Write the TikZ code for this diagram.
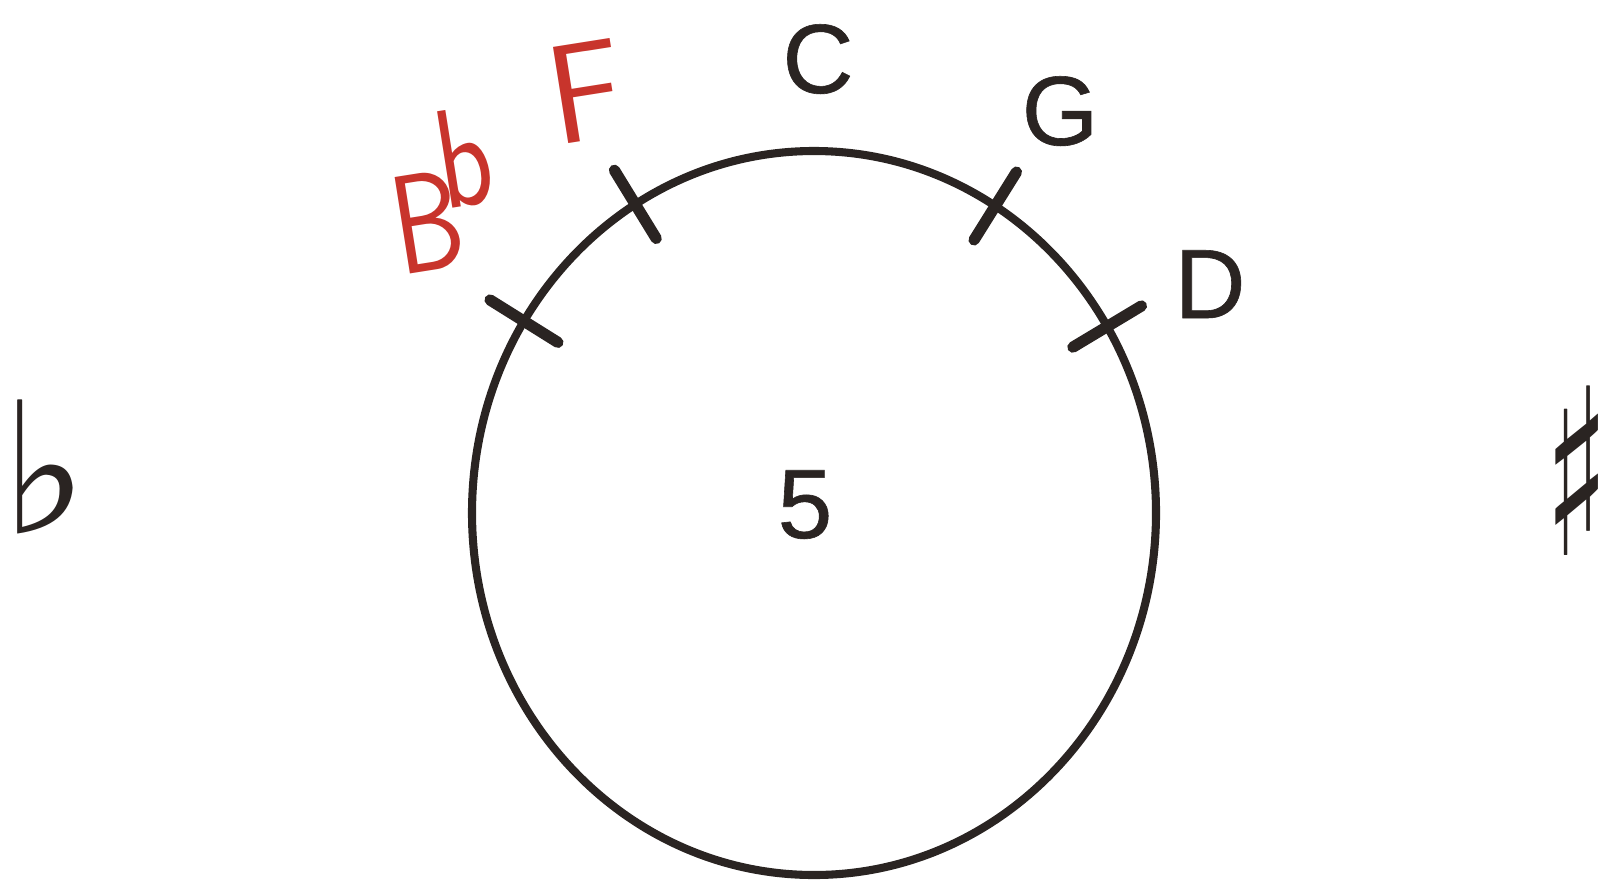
\documentclass[tikz,border=0pt]{standalone}
\usepackage{fontspec}
\setmainfont{Liberation Sans}
\newfontfamily\labelfont[FakeBold=0.6]{Liberation Sans}
\newfontfamily\symfont{DejaVu Sans}
\usepackage{tikz}
\usetikzlibrary{calc}
\definecolor{inkblack}{HTML}{2A2422}
\definecolor{penred}{HTML}{C8342C}
\tikzstyle{notelabel} = [
  inkblack, font=\labelfont\fontsize{28}{30}\selectfont, anchor=base, inner sep=0pt
]
\tikzstyle{redlabel} = [
  penred, font=\sffamily\fontsize{40}{42}\selectfont, inner sep=0pt
]
\tikzstyle{accidental} = [
  inkblack, font=\symfont\fontsize{52}{54}\selectfont, inner sep=0pt
]
\tikzstyle{tickmark} = [inkblack, line width=3.2pt, line cap=round]

\begin{document}
\begin{tikzpicture}[x=0.01cm, y=0.01cm]
\useasboundingbox (0,0) rectangle (1598,881);

% --- Circle of fifths ---
\coordinate (center) at (814,368);
\draw[inkblack, line width=2.3pt] (center) ellipse [x radius=342, y radius=362];
\foreach \a in {31,58,121.5,148}
  \draw[tickmark] ($(center)+(\a:302 and 322)$) -- ($(center)+(\a:382 and 402)$);

% --- Key names ---
\node[notelabel] (cnode) at (818,788) {C};
\node[notelabel] (gnode) at (1060,736) {G};
\node[notelabel] (dnode) at (1210,563) {D};
\node[notelabel] (count) at (805,343) {5};

% --- Handwritten keys ---
\node[redlabel, rotate=9] (fnode) at (586,789) {F};
\node[redlabel, rotate=9, xscale=0.8, anchor=base west] (bbnode) at (400,605)
  {B\kern-0.15em\raisebox{0.42em}{b}};

% --- Flat and sharp sides ---
\node[accidental] (flat) at (45,414) {♭};
\node[accidental, xscale=0.58, font=\symfont\fontsize{66}{68}\selectfont] (sharp) at (1577,410) {♯};

\end{tikzpicture}
\end{document}
